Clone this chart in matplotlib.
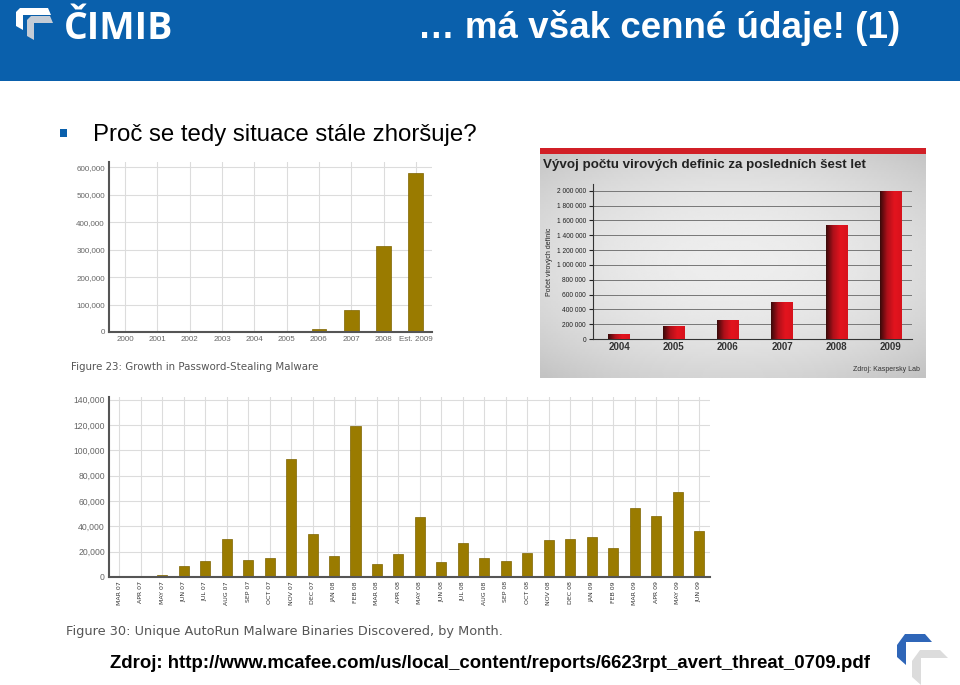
import numpy as np
import matplotlib
matplotlib.use("Agg")
import matplotlib.pyplot as plt
from matplotlib.patches import Rectangle, Polygon
from matplotlib.ticker import FuncFormatter
from matplotlib.colors import LinearSegmentedColormap

plt.rcParams['font.family'] = ['Liberation Sans', 'DejaVu Sans']

# --- data ---------------------------------------------------------------
pw_years = ["2000", "2001", "2002", "2003", "2004", "2005", "2006", "2007", "2008", "Est. 2009"]
pw_values = [0, 0, 5000, 5000, 5000, 5000, 10000, 80000, 312000, 580000]

kl_years = ["2004", "2005", "2006", "2007", "2008", "2009"]
kl_values = [70000, 170000, 250000, 500000, 1540000, 2000000]

ar_months = ["MAR 07", "APR 07", "MAY 07", "JUN 07", "JUL 07", "AUG 07", "SEP 07",
             "OCT 07", "NOV 07", "DEC 07", "JAN 08", "FEB 08", "MAR 08", "APR 08",
             "MAY 08", "JUN 08", "JUL 08", "AUG 08", "SEP 08", "OCT 08", "NOV 08",
             "DEC 08", "JAN 09", "FEB 09", "MAR 09", "APR 09", "MAY 09", "JUN 09"]
ar_values = [0, 0, 1500, 8400, 12300, 29600, 13600, 14700, 93300, 33600, 16800, 119000,
             10000, 17800, 47500, 11500, 26500, 15200, 12300, 18600, 29100, 29600,
             31700, 23000, 54800, 48500, 67400, 35900]

W, H = 960, 685
BLUE = "#0a60ac"
GOLD = "#9a7b00"

fig = plt.figure(figsize=(W / 100, H / 100), dpi=100)


def px_axes(l, t, r, b, **kw):
    return fig.add_axes([l / W, 1 - b / H, (r - l) / W, (b - t) / H], **kw)


# background / slide decoration
bg = fig.add_axes([0, 0, 1, 1])
bg.set_xlim(0, W)
bg.set_ylim(H, 0)
bg.axis("off")
bg.add_patch(Rectangle((0, 0), W, 81, color=BLUE, lw=0))

# logo top left
bg.add_patch(Polygon([(16, 12), (20, 8), (48, 8), (51, 15), (23, 15), (23, 30), (16, 26)],
                     color="white", lw=0))
bg.add_patch(Polygon([(27, 20), (31, 16), (50, 16), (53, 23), (34, 23), (34, 40), (27, 36)],
                     color="#c4ccd6", lw=0))
bg.text(64, 39, "ČIMIB", color="white", fontsize=27, fontweight="bold",
        va="baseline", ha="left", family=["Open Sans", "DejaVu Sans"])
bg.text(900, 28, "… má však cenné údaje! (1)", color="white", fontsize=26.5,
        fontweight="bold", va="center", ha="right")

# bullet
bg.add_patch(Rectangle((60, 129), 7, 8, color=BLUE, lw=0))
bg.text(93, 135, "Proč se tedy situace stále zhoršuje?", fontsize=17.3,
        va="center", ha="left", color="black")

# footer
bg.text(110, 663, "Zdroj: http://www.mcafee.com/us/local_content/reports/6623rpt_avert_threat_0709.pdf",
        fontsize=13.4, fontweight="bold", va="center", ha="left", color="black")

# logo bottom right
bg.add_patch(Polygon([(897, 645), (905, 634), (925, 634), (932, 642), (906, 642), (906, 665), (897, 657)],
                     color="#2f66b8", lw=0))
bg.add_patch(Polygon([(912, 661), (920, 650), (940, 650), (948, 658), (921, 658), (921, 685), (912, 677)],
                     color="#dcdcdc", lw=0))

comma = FuncFormatter(lambda v, p: f"{int(v):,}")


def mcafee_style(ax, fs):
    ax.set_axisbelow(True)
    ax.grid(True, color="#dcdcdc", lw=0.8)
    for s in ("top", "right"):
        ax.spines[s].set_visible(False)
    for s in ("left", "bottom"):
        ax.spines[s].set_color("#555555")
        ax.spines[s].set_linewidth(1.5)
    ax.tick_params(length=0, labelsize=fs, colors="#666666", pad=3)
    ax.yaxis.set_major_formatter(comma)
    ax.set_facecolor("none")


# --- chart 1: password stealing malware --------------------------------
ax1 = px_axes(109, 162, 432, 332)
x1 = np.arange(len(pw_years))
ax1.bar(x1, pw_values, width=0.46, color=GOLD, edgecolor="#7d6400", lw=0.5)
ax1.set_xticks(x1, pw_years)
ax1.set_yticks(np.arange(0, 600001, 100000))
ax1.set_ylim(0, 620000)
ax1.set_xlim(-0.5, 9.5)
mcafee_style(ax1, 5.8)
bg.text(71, 367, "Figure 23: Growth in Password-Stealing Malware", fontsize=7.4,
        color="#555555", va="center", ha="left", family="DejaVu Sans")

# --- chart 2: Kaspersky -------------------------------------------------
bgk = px_axes(540, 148, 926, 378)
yy, xx = np.mgrid[-1:1:100j, -1:1:160j]
grad = 0.93 - 0.12 * (xx ** 2 * 0.6 + yy ** 2 * 0.8)
bgk.imshow(grad, cmap="gray", vmin=0, vmax=1, aspect="auto",
           extent=[0, 1, 0, 1])
bgk.add_patch(Rectangle((0, 0.975), 1, 0.03, color="#d11f26", lw=0))
bgk.set_xlim(0, 1)
bgk.set_ylim(0, 1)
bgk.axis("off")
bgk.text(0.008, 0.925, "Vývoj počtu virových definic za posledních šest let",
         fontsize=9.6, fontweight="bold", color="#222222", va="center", ha="left")
bgk.text(0.985, 0.035, "Zdroj: Kaspersky Lab", fontsize=5, color="#333333",
         ha="right", va="center")

ax2 = px_axes(593, 184, 912, 339)
x2 = np.arange(len(kl_years))
bars = ax2.bar(x2, kl_values, width=0.4, color="#d8121c", lw=0)
shade = np.linspace(0, 1, 64).reshape(1, -1)
redmap = LinearSegmentedColormap.from_list("r", ["#3a0a0a", "#b0101a", "#e3141e", "#d8121c"])
for b in bars:
    im = ax2.imshow(shade, cmap=redmap, aspect="auto", zorder=3,
                    extent=[b.get_x(), b.get_x() + b.get_width(), 0, b.get_height()])
    im.set_clip_path(b)
ax2.set_xticks(x2, kl_years)
ax2.set_yticks(np.arange(0, 2000001, 200000))
ax2.set_ylim(0, 2090000)
ax2.set_xlim(-0.48, 5.39)
ax2.set_facecolor("none")
ax2.set_axisbelow(True)
ax2.yaxis.grid(True, color="#777777", lw=0.7)
ax2.yaxis.set_major_formatter(FuncFormatter(lambda v, p: f"{int(v):,}".replace(",", " ")))
for s in ("top", "right"):
    ax2.spines[s].set_visible(False)
ax2.spines["left"].set_color("#333333")
ax2.spines["bottom"].set_color("#333333")
ax2.tick_params(axis="y", labelsize=4.8, colors="#222222", length=3, pad=2)
ax2.tick_params(axis="x", labelsize=7, colors="#333333", length=0, pad=2)
for t in ax2.get_xticklabels():
    t.set_fontweight("bold")
ax2.set_ylabel("Počet virových definic", fontsize=5, color="#222222", labelpad=3)

# --- chart 3: AutoRun malware -------------------------------------------
ax3 = px_axes(109, 397, 710, 577)
x3 = np.arange(len(ar_months))
ax3.bar(x3, ar_values, width=0.47, color=GOLD, edgecolor="#7d6400", lw=0.5)
ax3.set_xticks(x3, ar_months)
ax3.set_yticks(np.arange(0, 140001, 20000))
ax3.set_ylim(0, 142000)
ax3.set_xlim(-0.48, 27.51)
mcafee_style(ax3, 6.2)
for t in ax3.get_xticklabels():
    t.set_rotation(90)
    t.set_fontsize(4.5)
    t.set_family("Liberation Sans Narrow")
    t.set_color("#333333")
    t.set_va("top")
bg.text(66, 631, "Figure 30: Unique AutoRun Malware Binaries Discovered, by Month.",
        fontsize=9.3, color="#555555", va="center", ha="left", family="DejaVu Sans")

fig.savefig("out.png", dpi=100)
